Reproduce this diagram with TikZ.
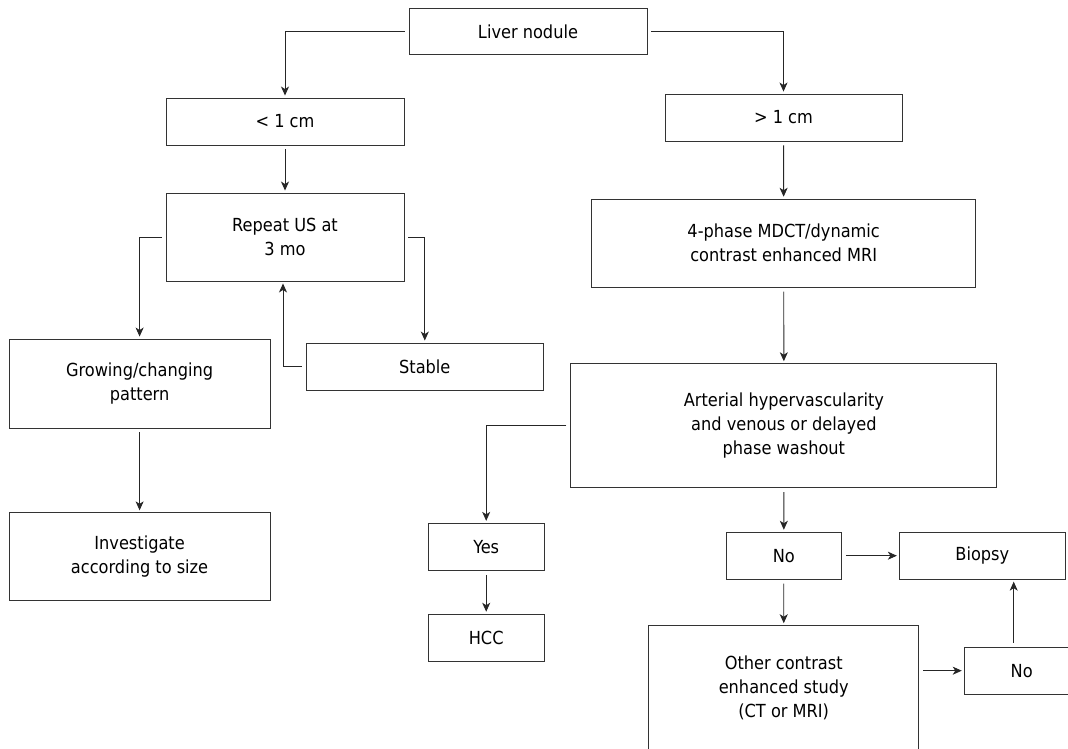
\documentclass[tikz,border=0pt]{standalone}
\usepackage{fontspec}
\setmainfont{DejaVu Sans Condensed}
\usetikzlibrary{arrows.meta}

\begin{document}
\begin{tikzpicture}[x=1pt,y=-1pt,
  box/.style={draw=black!80,line width=0.9pt,inner sep=0pt,align=center,
    font=\fontsize{18}{24}\selectfont},
  arr/.style={-{Stealth[length=9pt,width=8pt,inset=2.5pt]},draw=black!85,line width=0.9pt,
    shorten <=4pt,shorten >=2pt}]
  % Page frame
  \useasboundingbox (0,0) rectangle (1068,749);

  % Start and size split
  \node[box,minimum width=238pt,minimum height=46pt] (liver) at (528,31.8) {Liver nodule};
  \node[box,minimum width=238pt,minimum height=47pt] (small) at (285,121.5) {< 1 cm};
  \node[box,minimum width=237pt,minimum height=47pt] (large) at (783.5,117.5) {> 1 cm};

  % Small nodule branch
  \node[box,minimum width=238pt,minimum height=88pt] (repeat) at (285,237) {Repeat US at\\3 mo};
  \node[box,minimum width=261pt,minimum height=89pt] (growing) at (139.6,383.5) {Growing/changing\\pattern};
  \node[box,minimum width=237pt,minimum height=47pt] (stable) at (424.8,366.5) {Stable};
  \node[box,minimum width=261pt,minimum height=88pt] (investigate) at (139.6,556.8) {Investigate\\according to size};

  % Large nodule branch
  \node[box,minimum width=384pt,minimum height=88pt] (mdct) at (783.7,243.2) {4-phase MDCT/dynamic\\contrast enhanced MRI};
  \node[box,minimum width=426pt,minimum height=124pt] (arterial) at (783.9,425.7) {Arterial hypervascularity\\and venous or delayed\\phase washout};
  \node[box,minimum width=116pt,minimum height=47pt] (yes) at (486.2,546.8) {Yes};
  \node[box,minimum width=116pt,minimum height=47pt] (hcc) at (486.2,637.7) {HCC};
  \node[box,minimum width=115pt,minimum height=47pt] (no) at (783.8,555.7) {No};
  \node[box,minimum width=166pt,minimum height=47pt] (biopsy) at (982.3,555.7) {Biopsy};
  \node[box,minimum width=270pt,minimum height=124pt] (other) at (783.7,687.7) {Other contrast\\enhanced study\\(CT or MRI)};
  \node[box,minimum width=115pt,minimum height=47pt] (notwo) at (1021.7,670.7) {No};

  % Connectors
  \draw[arr] (liver.west) -| (small.north);
  \draw[arr] (liver.east) -| (large.north);
  \draw[arr] (small) -- (repeat);
  \draw[arr] (large) -- (mdct);
  \draw[arr] (repeat.west) -| (growing.north);
  \draw[arr] (repeat.east) -| (stable.north);
  \draw[arr] (stable.west) -| ([xshift=-2pt]repeat.south);
  \draw[arr] (growing) -- (investigate);
  \draw[arr] (mdct) -- (arterial);
  \draw[arr] (arterial.west) -| (yes.north);
  \draw[arr] (yes) -- (hcc);
  \draw[arr] (arterial) -- (no);
  \draw[arr] (no) -- (biopsy);
  \draw[arr] (no) -- (other);
  \draw[arr] (notwo.west -| other.east) -- (notwo.west);
  \draw[arr] ([xshift=-8pt]notwo.north) -- ([xshift=-8pt]notwo.north |- biopsy.south);

\end{tikzpicture}
\end{document}
